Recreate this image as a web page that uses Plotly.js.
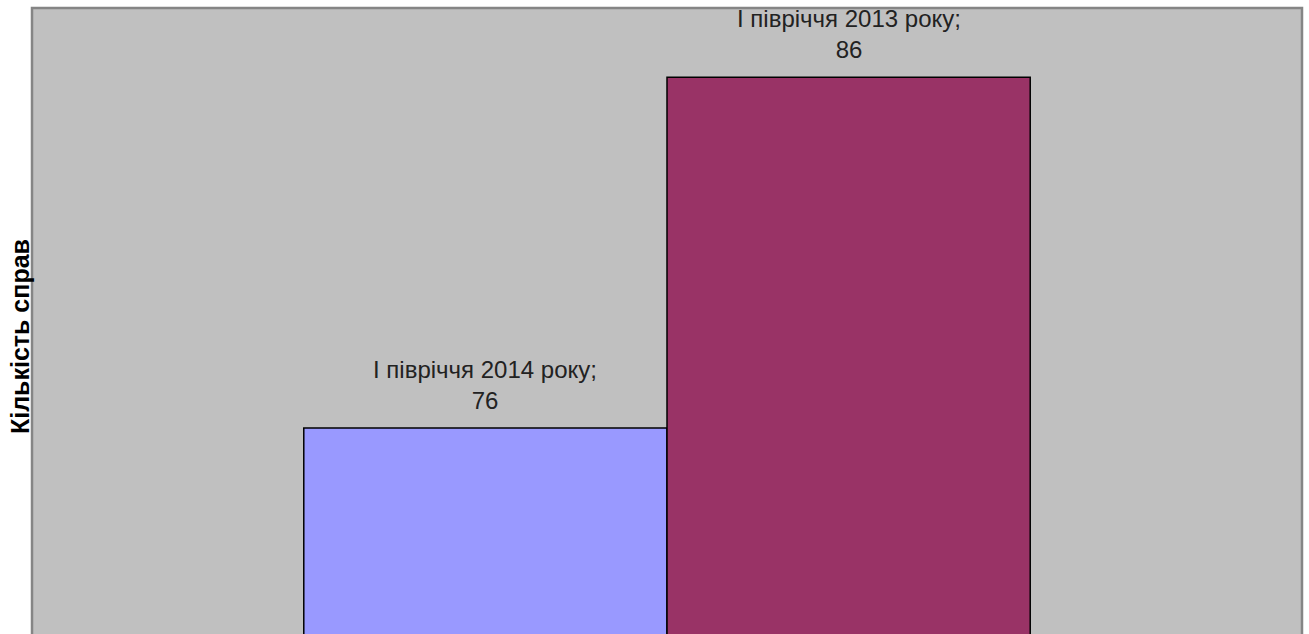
<!DOCTYPE html>
<html>
<head>
<meta charset="utf-8">
<script src="https://cdn.plot.ly/plotly-3.0.1.min.js"></script>
<style>html,body{margin:0;padding:0;background:#fff;}#chart{width:1309px;height:634px;}</style>
</head>
<body>
<div id="chart"></div>
<script>
const category = ["Справи"];
const seriesNames = ["I півріччя 2014 року", "I півріччя 2013 року"];
const seriesValues = [76, 86];
const seriesColors = ["#9999FF", "#993366"];
const yTitle = "Кількість справ";

const W = 1309, H = 634;
const M = {l: 32, r: 7, t: 8, b: 0};
const bargap = 0.428;
const plotW = W - M.l - M.r;
const barPx = plotW * (1 - bargap) / seriesNames.length;

const traces = seriesNames.map((name, i) => ({
  type: "bar",
  name: name,
  x: category,
  y: [seriesValues[i]],
  marker: {color: seriesColors[i], line: {color: "#000000", width: 1.5}},
  hoverinfo: "skip"
}));

const labelFont = {family: "Liberation Sans, Arial, sans-serif", size: 24, color: "#222222"};
const annotations = seriesNames.map((name, i) => ({
  xref: "x", yref: "y",
  x: category[0], y: seriesValues[i],
  xshift: (i - (seriesNames.length - 1) / 2) * barPx,
  yshift: 12,
  xanchor: "center", yanchor: "bottom",
  text: name + ";<br>" + seriesValues[i],
  showarrow: false, align: "center",
  font: labelFont
}));
annotations.push({
  xref: "paper", yref: "paper", x: 0, y: (H - 337 - M.b) / (H - M.t - M.b),
  xshift: -12, xanchor: "center", yanchor: "middle",
  textangle: -90, showarrow: false,
  text: "<b>" + yTitle + "</b>",
  font: {family: "Liberation Sans, Arial, sans-serif", size: 25, color: "#000000"}
});

const layout = {
  width: W, height: H,
  margin: {l: M.l, r: M.r, t: M.t, b: M.b, pad: 0},
  paper_bgcolor: "#FFFFFF",
  plot_bgcolor: "#C0C0C0",
  showlegend: false,
  barmode: "group",
  bargap: bargap,
  bargroupgap: 0,
  xaxis: {type: "category", range: [-0.5, 0.5], showticklabels: false, showgrid: false, zeroline: false, ticks: "", fixedrange: true},
  yaxis: {range: [70.13, 87.97], showticklabels: false, showgrid: false, zeroline: false, ticks: ""},
  annotations: annotations,
  shapes: [{
    type: "rect", xref: "paper", yref: "paper", x0: 0, x1: 1, y0: -0.05, y1: 1,
    line: {color: "#858585", width: 2.5}, fillcolor: "rgba(0,0,0,0)", layer: "above"
  }]
};

Plotly.newPlot("chart", traces, layout, {displayModeBar: false, staticPlot: true});
</script>
</body>
</html>
